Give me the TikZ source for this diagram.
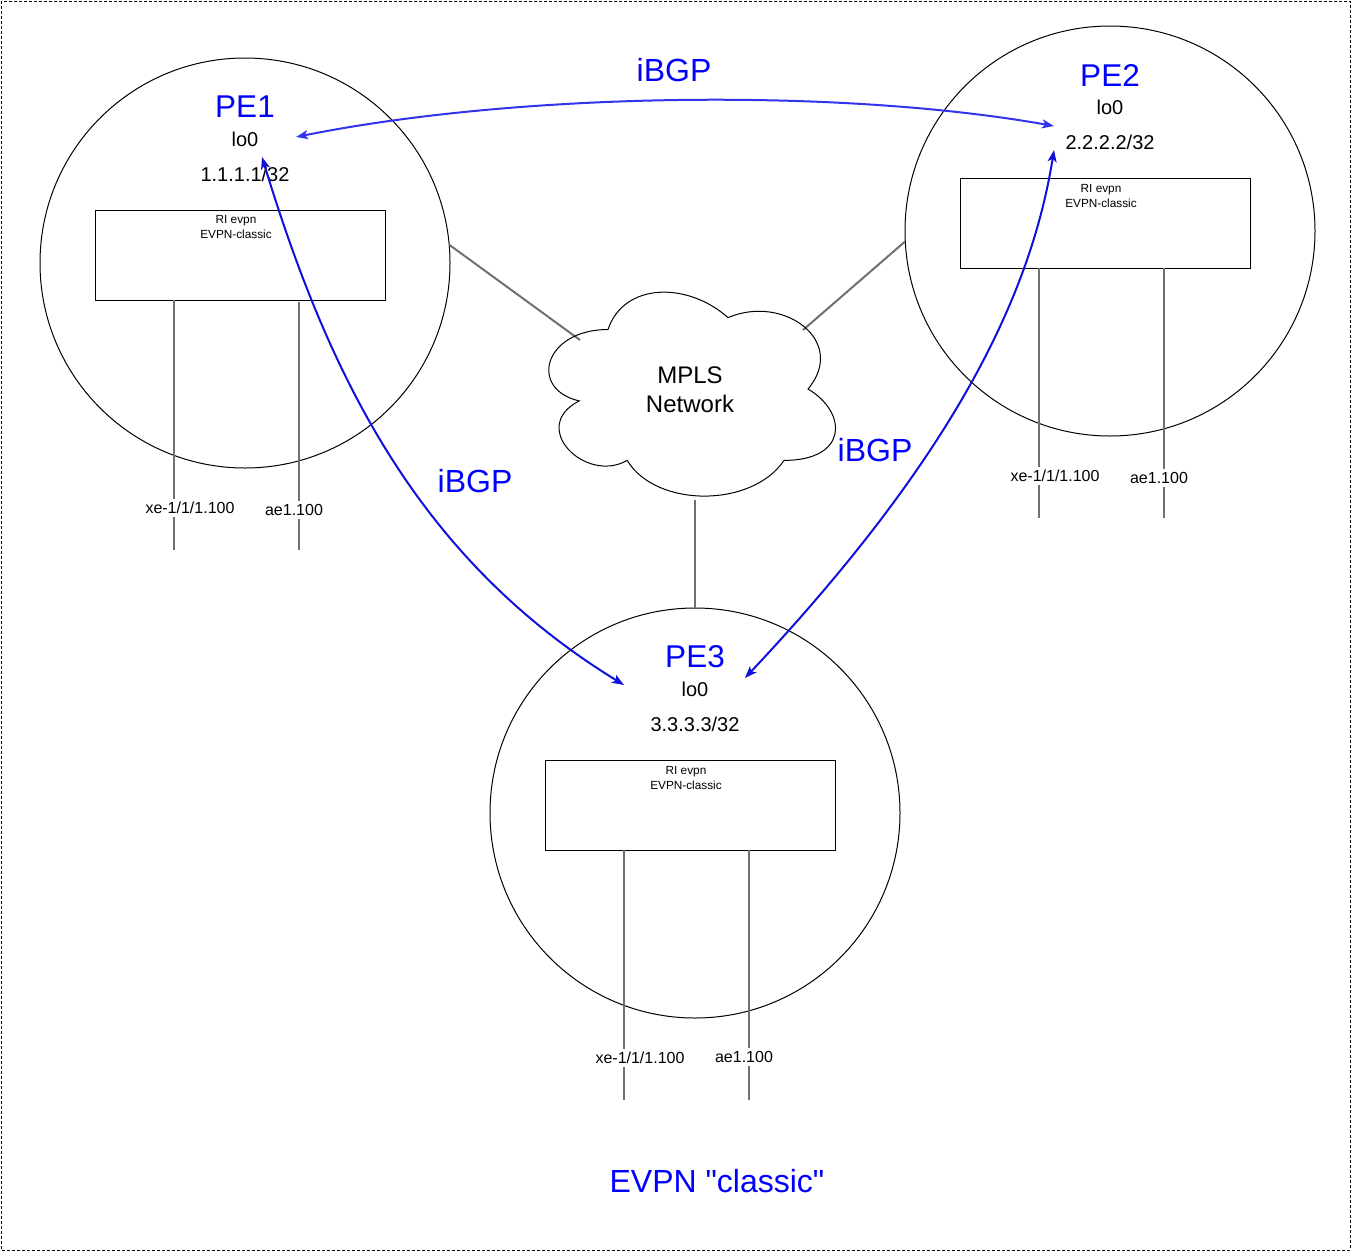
\documentclass[tikz,border=0pt]{standalone}
\usepackage{fontspec}
\setmainfont{Liberation Sans}
\newfontfamily\qfont{Liberation Sans}
\usetikzlibrary{arrows.meta}
\definecolor{txtblue}{HTML}{0000FF}
\definecolor{arrA}{HTML}{3333EE}
\definecolor{arrB}{HTML}{1010DD}
\definecolor{portgray}{HTML}{707070}
\newcommand{\fs}[1]{\fontsize{#1}{#1}\selectfont}
\tikzset{
  pecircle/.style={circle,draw=black,line width=1pt,minimum size=410pt,inner sep=0pt},
  petitle/.style={text=txtblue,font=\fs{31.5},inner sep=0pt},
  lotext/.style={font=\fs{20},inner sep=0pt},
  ribox/.style={draw=black,line width=1pt,minimum width=290pt,minimum height=90pt,inner sep=0pt},
  ritext/.style={font=\fs{11.8},align=center,inner sep=0pt},
  port/.style={draw=portgray,line width=2pt},
  portlabel/.style={fill=white,font=\fs{16},inner sep=3pt},
  link/.style={draw=portgray,line width=2pt},
  bgp/.style={line width=2pt,{Stealth[length=12pt,width=9pt,inset=3pt]}-{Stealth[length=12pt,width=9pt,inset=3pt]}},
  bgplabel/.style={text=txtblue,font=\fs{32},inner sep=0pt},
}
\begin{document}
\begin{tikzpicture}[x=1pt,y=-1pt]
\useasboundingbox (0,0) rectangle (1351,1251);
\draw[dashed,line width=0.8pt,dash pattern=on 3pt off 2pt] (1,1) rectangle (1350,1250);

% circles
\node[pecircle] (pe1) at (245,263) {};
\node[pecircle] (pe2) at (1110,231) {};
\node[pecircle] (pe3) at (695,813) {};

% PE1 contents
\node[petitle] (pe1t) at (245,107) {PE1};
\node[lotext] (pe1lo) at (245,139) {lo0};
\node[lotext] (pe1ip) at (245,174) {1.1.1.1/32};
\node[ribox] (pe1box) at (240,255) {};
\node[ritext,anchor=north] (pe1ri) at (236,215) {RI evpn\\[3pt]EVPN-classic};
\coordinate (p1a) at (174,300); \coordinate (p1ae) at (174,550);
\coordinate (p1b) at (299,302); \coordinate (p1be) at (299,550);
\draw[port] (p1a) -- (p1ae);
\draw[port] (p1b) -- (p1be);
\node[portlabel] (p1al) at (190,508) {xe-1/1/1.100};
\node[portlabel] (p1bl) at (294,510) {ae1.100};

% PE2 contents
\node[petitle] (pe2t) at (1110,75) {PE2};
\node[lotext] (pe2lo) at (1110,107) {lo0};
\node[lotext] (pe2ip) at (1110,142) {2.2.2.2/32};
\node[ribox] (pe2box) at (1105,223) {};
\node[ritext,anchor=north] (pe2ri) at (1101,184) {RI evpn\\[3pt]EVPN-classic};
\coordinate (p2a) at (1039,268); \coordinate (p2ae) at (1039,518);
\coordinate (p2b) at (1164,268); \coordinate (p2be) at (1164,518);
\draw[port] (p2a) -- (p2ae);
\draw[port] (p2b) -- (p2be);
\node[portlabel] (p2al) at (1055,476) {xe-1/1/1.100};
\node[portlabel] (p2bl) at (1159,478) {ae1.100};

% PE3 contents
\node[petitle] (pe3t) at (695,657) {PE3};
\node[lotext] (pe3lo) at (695,689) {lo0};
\node[lotext] (pe3ip) at (695,724) {3.3.3.3/32};
\node[ribox] (pe3box) at (690,805) {};
\node[ritext,anchor=north] (pe3ri) at (686,766) {RI evpn\\[3pt]EVPN-classic};
\coordinate (p3a) at (624,850); \coordinate (p3ae) at (624,1100);
\coordinate (p3b) at (749,850); \coordinate (p3be) at (749,1100);
\draw[port] (p3a) -- (p3ae);
\draw[port] (p3b) -- (p3be);
\node[portlabel] (p3al) at (640,1058) {xe-1/1/1.100};
\node[portlabel] (p3bl) at (744,1057) {ae1.100};

% links to cloud
\coordinate (cA) at (580,340);
\coordinate (cB) at (803,330);
\coordinate (cC) at (695,500);
\draw[link] (pe1.5) -- (cA);
\draw[link] (pe2.183) -- (cB);
\draw[link] (cC) -- (pe3.north);

% cloud (mxgraph cloud shape), box x0=528 w=320 y0=270 h=238
\begin{scope}[shift={(528,270)},x=320pt,y=-238pt]
\draw[line width=1pt]
  (0.25,0.25) .. controls (0.05,0.25) and (0,0.5) .. (0.16,0.55)
  .. controls (0,0.66) and (0.18,0.9) .. (0.31,0.8)
  .. controls (0.4,1) and (0.7,1) .. (0.8,0.8)
  .. controls (1,0.8) and (1,0.6) .. (0.875,0.5)
  .. controls (1,0.3) and (0.8,0.1) .. (0.625,0.2)
  .. controls (0.5,0.05) and (0.3,0.05) .. (0.25,0.25) -- cycle;
\end{scope}
\node[font=\fs{24},align=center,inner sep=0pt] (cloud) at (690,390) {MPLS\\[5pt]Network};

% iBGP sessions
\coordinate (b1) at (296,137);
\coordinate (b2) at (1054,126);
\coordinate (b3) at (262,157);
\coordinate (b4) at (624,685);
\coordinate (b5) at (1054,150);
\coordinate (b6) at (745,678);
\draw[bgp,arrA] (b1) .. controls (520,92) and (840,88) .. (b2);
\draw[bgp,arrB] (b3) .. controls (330,380) and (420,560) .. (b4);
\draw[bgp,arrB] (b5) .. controls (1030,300) and (950,460) .. (b6);
\node[bgplabel] (l1) at (674,70) {iBGP};
\node[bgplabel] (l2) at (475,481) {iBGP};
\node[bgplabel] (l3) at (875,450) {iBGP};

\node[bgplabel] (title) at (717,1181) {\qfont EVPN "classic"};
\end{tikzpicture}
\end{document}
